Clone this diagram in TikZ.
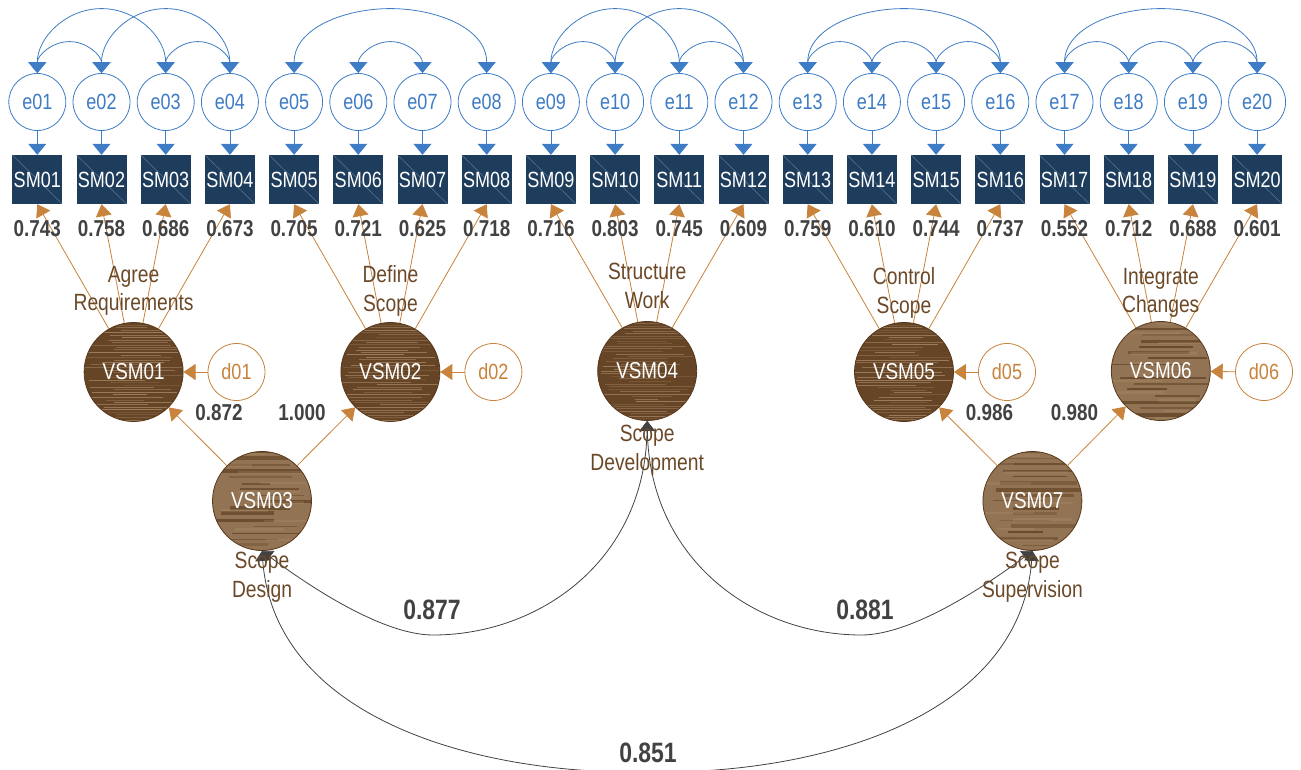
\documentclass[tikz,border=0pt]{standalone}
\usepackage{fontspec}
\setmainfont{Liberation Sans}[FakeStretch=0.82]
\usetikzlibrary{arrows.meta,calc}

\definecolor{eblue}{RGB}{62,124,197}
\definecolor{smnavy}{RGB}{30,61,92}
\definecolor{smdiag}{RGB}{92,120,150}
\definecolor{ochre}{RGB}{200,131,60}
\definecolor{labbrown}{RGB}{107,73,40}
\definecolor{numgray}{RGB}{66,66,66}
\definecolor{woodbase}{RGB}{102,68,38}
\definecolor{woodstreak}{RGB}{178,148,114}
\definecolor{woodpale}{RGB}{146,116,84}
\definecolor{woodgrain}{RGB}{88,57,28}
\definecolor{woodrim}{RGB}{88,56,26}

\tikzset{
  basefont/.style={font=\fontsize{22}{27}\selectfont},
  err/.style={circle, draw=eblue, line width=0.8pt, fill=white, minimum size=57pt,
    inner sep=0pt, text=eblue, basefont},
  dist/.style={circle, draw=ochre, line width=0.8pt, fill=white, minimum size=57pt,
    inner sep=0pt, text=ochre, basefont},
  obs/.style={rectangle, fill=smnavy, minimum width=50pt, minimum height=49pt,
    inner sep=0pt, text=white, basefont,
    path picture={\draw[smdiag, line width=0.5pt]
      (path picture bounding box.north west) -- (path picture bounding box.south east);}},
  lat/.style={circle, draw=woodrim, line width=0.8pt, minimum size=99pt, inner sep=0pt,
    text=white, font=\fontsize{23}{27}\selectfont},
  lbl/.style={text=labbrown, align=center, font=\fontsize{23.5}{28.5}\selectfont, inner sep=0pt},
  ld/.style={text=numgray, font=\bfseries\fontsize{23}{27}\selectfont, inner sep=0pt},
  bigld/.style={text=numgray, font=\bfseries\fontsize{28}{32}\selectfont, inner sep=0pt},
  bluearr/.style={eblue, line width=0.8pt, -{Triangle[width=18pt,length=11pt]}},
  bluecov/.style={eblue, line width=0.8pt,
    {Triangle[width=18pt,length=11pt]}-{Triangle[width=18pt,length=11pt]}},
  ochrearr/.style={ochre, line width=0.8pt, -{Triangle[width=16pt,length=12pt]}},
  corr/.style={numgray, line width=0.8pt,
    {Triangle[width=15pt,length=10pt]}-{Triangle[width=15pt,length=10pt]}},
}

% covariance between two error terms: half-ellipse over their tops
\newcommand\ecov[3]{%
  \draw[bluecov] (#1.north) to[out=90,in=180]
    ($(#1.north)!0.5!(#2.north)+(0,-#3)$) to[out=0,in=90] (#2.north);}

% dark wood disc with fine light grain: x, y, seed
\newcommand\woodfine[3]{%
  \begin{scope}[shift={(#1,#2)}]
    \clip (0,0) circle[radius=49.5pt];
    \fill[woodbase] (-55,-55) rectangle (55,55);
    \pgfmathsetseed{#3}
    \foreach \k in {0,...,40}{
      \pgfmathsetmacro\yy{-50+2.5*\k+0.8*rnd}
      \pgfmathsetmacro\xa{-55+45*rnd}
      \pgfmathsetmacro\xb{10+45*rnd}
      \pgfmathsetmacro\op{0.2+0.5*rnd}
      \draw[woodstreak, opacity=\op, line width=0.6pt] (\xa,\yy) -- (\xb,\yy);
    }
  \end{scope}}

% pale wood disc with broad dark grain: x, y, seed
\newcommand\woodbroad[3]{%
  \begin{scope}[shift={(#1,#2)}]
    \clip (0,0) circle[radius=49.5pt];
    \fill[woodpale] (-55,-55) rectangle (55,55);
    \pgfmathsetseed{#3}
    \foreach \k in {0,...,16}{
      \pgfmathsetmacro\yy{-50+6.2*\k+2*rnd}
      \pgfmathsetmacro\xa{-55+50*rnd}
      \pgfmathsetmacro\xb{5+50*rnd}
      \pgfmathsetmacro\op{0.25+0.45*rnd}
      \pgfmathsetmacro\lw{1+3*rnd}
      \draw[woodgrain, opacity=\op, line width=\lw pt] (\xa,\yy) -- (\xb,\yy);
    }
    \foreach \k in {0,...,10}{
      \pgfmathsetmacro\yy{-48+9.5*\k+3*rnd}
      \pgfmathsetmacro\xa{-55+60*rnd}
      \pgfmathsetmacro\xb{\xa+30+40*rnd}
      \draw[woodstreak, opacity=0.25, line width=2.5pt] (\xa,\yy) -- (\xb,\yy);
    }
  \end{scope}}

\begin{document}
\begin{tikzpicture}[x=1pt,y=-1pt]
\useasboundingbox (0,0) rectangle (1301,770);

% error terms and indicators
\foreach \i in {1,...,20}{
  \pgfmathsetmacro\xx{37.3+64.2*(\i-1)}
  \edef\nn{\ifnum\i<10 0\fi\i}
  \node[err] (e\nn) at (\xx,102) {e\nn};
  \node[obs] (sm\nn) at (\xx,179.5) {SM\nn};
  \draw[bluearr] (e\nn) -- (sm\nn);
}

% error covariances
\ecov{e01}{e02}{31.5}
\ecov{e03}{e04}{31.5}
\ecov{e01}{e03}{64.5}
\ecov{e02}{e04}{64.5}
\ecov{e06}{e07}{31.5}
\ecov{e05}{e08}{64.5}
\ecov{e09}{e10}{31.5}
\ecov{e11}{e12}{31.5}
\ecov{e09}{e11}{64.5}
\ecov{e10}{e12}{64.5}
\ecov{e13}{e14}{31.5}
\ecov{e14}{e15}{31.5}
\ecov{e15}{e16}{31.5}
\ecov{e13}{e16}{64.5}
\ecov{e17}{e18}{31.5}
\ecov{e18}{e19}{31.5}
\ecov{e19}{e20}{31.5}
\ecov{e17}{e20}{64.5}

% latent factors
\woodfine{133.6}{372}{3}
\woodfine{390.4}{372}{5}
\woodfine{647.2}{371}{11}
\woodfine{904.0}{372}{17}
\woodbroad{1160.8}{371}{23}
\woodbroad{262.0}{501}{29}
\woodbroad{1032.4}{501}{31}
\node[lat] (v01) at (133.6,372) {VSM01};
\node[lat] (v02) at (390.4,372) {VSM02};
\node[lat] (v04) at (647.2,371) {VSM04};
\node[lat] (v05) at (904.0,372) {VSM05};
\node[lat] (v06) at (1160.8,371) {VSM06};
\node[lat] (v03) at (262.0,501) {VSM03};
\node[lat] (v07) at (1032.4,501) {VSM07};

% disturbances
\node[dist] (d01) at (236.5,372) {d01};
\node[dist] (d02) at (493.4,372) {d02};
\node[dist] (d05) at (1007.0,372) {d05};
\node[dist] (d06) at (1264.0,372) {d06};
\draw[ochrearr] (d01) -- (v01);
\draw[ochrearr] (d02) -- (v02);
\draw[ochrearr] (d05) -- (v05);
\draw[ochrearr] (d06) -- (v06);

% factor loadings
\foreach \i in {01,02,03,04}{\draw[ochrearr] (v01) -- (sm\i.south);}
\foreach \i in {05,06,07,08}{\draw[ochrearr] (v02) -- (sm\i.south);}
\foreach \i in {09,10,11,12}{\draw[ochrearr] (v04) -- (sm\i.south);}
\foreach \i in {13,14,15,16}{\draw[ochrearr] (v05) -- (sm\i.south);}
\foreach \i in {17,18,19,20}{\draw[ochrearr] (v06) -- (sm\i.south);}

% second-order paths
\draw[ochrearr] (v03) -- (v01);
\draw[ochrearr] (v03) -- (v02);
\draw[ochrearr] (v07) -- (v05);
\draw[ochrearr] (v07) -- (v06);

% correlations among the higher factors
\draw[corr] (v03.south) .. controls (302,581) and (380,635) .. (433,635)
  .. controls (540,635) and (645,560) .. (v04.south);
\draw[corr] (v04.south) .. controls (649.4,560) and (754.4,635) .. (861.4,635)
  .. controls (914.4,635) and (992.4,581) .. (v07.south);
\draw[corr] (v03.south) .. controls (275,720) and (480,775) .. (647.2,772)
  .. controls (814.4,775) and (1019.4,720) .. (v07.south);

% standardized loadings
\foreach \v [count=\i] in {0.743,0.758,0.686,0.673,0.705,0.721,0.625,0.718,0.716,0.803,
    0.745,0.609,0.759,0.610,0.744,0.737,0.552,0.712,0.688,0.601}{
  \pgfmathsetmacro\xx{37.3+64.2*(\i-1)}
  \edef\nn{\ifnum\i<10 0\fi\i}
  \node[ld] (l\nn) at (\xx,229) {\v};
}
\node[ld] (p31) at (219,413) {0.872};
\node[ld] (p32) at (302,413) {1.000};
\node[ld] (p75) at (989.5,413) {0.986};
\node[ld] (p76) at (1074.5,413) {0.980};
\node[bigld] (r34) at (432,610) {0.877};
\node[bigld] (r47) at (865,610) {0.881};
\node[bigld] (r37) at (648,753) {0.851};

% factor names
\node[lbl] (t01) at (133.6,291) {Agree\\Requirements};
\node[lbl] (t02) at (390.4,291) {Define\\Scope};
\node[lbl] (t04) at (647.2,286) {Structure\\Work};
\node[lbl] (t05) at (904.0,293) {Control\\Scope};
\node[lbl] (t06) at (1160.8,293) {Integrate\\Changes};
\node[lbl] (t03) at (262.0,577) {Scope\\Design};
\node[lbl] (t0d) at (647.2,450) {Scope\\Development};
\node[lbl] (t07) at (1032.4,577) {Scope\\Supervision};
\end{tikzpicture}
\end{document}
